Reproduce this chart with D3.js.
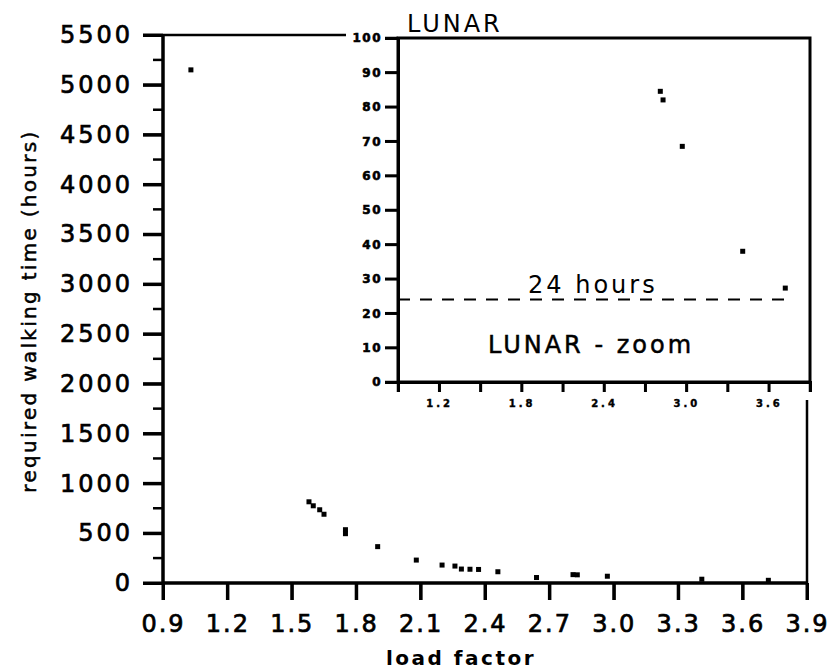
<!DOCTYPE html>
<html>
<head>
<meta charset="utf-8">
<script src="https://cdn.jsdelivr.net/npm/d3@7"></script>
<style>
  html, body { margin: 0; padding: 0; background: #fff; }
  svg { display: block; }
  text { font-family: "DejaVu Sans", sans-serif; fill: #000; }
</style>
</head>
<body>
<svg id="chart" width="830" height="671"></svg>
<script>
// ---- data ----
const loadFactor = [1.03, 1.58, 1.60, 1.63, 1.65, 1.75, 1.75, 1.90, 2.08, 2.20, 2.26, 2.29, 2.33, 2.37, 2.46, 2.64, 2.81, 2.83, 2.97, 3.41, 3.72];
const walkTime   = [5150, 815, 775, 735, 690, 535, 495, 365, 230, 180, 170, 140, 138, 136, 113, 55, 84, 82, 68, 38, 27];

// inset (LUNAR - zoom) points, y <= 100 hours
const insetLoad = [2.81, 2.83, 2.97, 3.41, 3.72];
const insetTime = [84.5, 82, 68.5, 38, 27.3];

const xTicks = [0.9, 1.2, 1.5, 1.8, 2.1, 2.4, 2.7, 3.0, 3.3, 3.6, 3.9];
const yTicks = [0, 500, 1000, 1500, 2000, 2500, 3000, 3500, 4000, 4500, 5000, 5500];
const yMinorTicks = [250, 750, 1250, 1750, 2250, 2750, 3250, 3750, 4250, 4750, 5250];
const insetXTicks = [0.9, 1.2, 1.5, 1.8, 2.1, 2.4, 2.7, 3.0, 3.3, 3.6, 3.9];
const insetXLabels = [1.2, 1.8, 2.4, 3.0, 3.6];
const insetYTicks = [0, 10, 20, 30, 40, 50, 60, 70, 80, 90, 100];
const thresholdHours = 24;

const svg = d3.select("#chart");

// ---- main plot ----
const x = d3.scaleLinear().domain([0.9, 3.9]).range([163, 807]);
const y = d3.scaleLinear().domain([0, 5500]).range([583, 35]);

// frame (top + right)
svg.append("line").attr("x1", x(0.9)).attr("x2", x(3.9)).attr("y1", y(5500)).attr("y2", y(5500))
  .attr("stroke", "#000").attr("stroke-width", 2.5);
svg.append("line").attr("x1", x(3.9)).attr("x2", x(3.9)).attr("y1", y(5500)).attr("y2", y(0))
  .attr("stroke", "#000").attr("stroke-width", 2.5);

const yAxis = svg.append("g").attr("transform", `translate(${x(0.9)},0)`)
  .call(d3.axisLeft(y).tickValues(yTicks).tickSize(20).tickPadding(10).tickFormat(d3.format("d")));
const xAxis = svg.append("g").attr("transform", `translate(0,${y(0)})`)
  .call(d3.axisBottom(x).tickValues(xTicks).tickSize(17).tickPadding(15).tickFormat(d3.format(".1f")));

[yAxis, xAxis].forEach(g => {
  g.selectAll(".domain").attr("stroke", "#000").attr("stroke-width", 3.5);
  g.selectAll(".tick line").attr("stroke", "#000").attr("stroke-width", 3);
});
xAxis.select(".domain").attr("d", `M${x(0.9)},0H${x(3.9)}`);
yAxis.select(".domain").attr("d", `M0,${y(5500)}V${y(0)}`);
yAxis.selectAll(".tick text").attr("font-size", 24).attr("letter-spacing", 3)
  .attr("font-family", "DejaVu Sans").attr("fill", "#000")
  .attr("stroke", "#000").attr("stroke-width", 0.7);
xAxis.selectAll(".tick text").attr("font-size", 24).attr("letter-spacing", 2)
  .attr("font-family", "DejaVu Sans").attr("fill", "#000").attr("dy", "0.72em")
  .attr("stroke", "#000").attr("stroke-width", 0.7);

// explicit tick marks (major + minor) from the scales
const tickG = svg.append("g").attr("stroke", "#000");
tickG.selectAll("line.ymaj").data(yTicks).join("line").attr("class", "ymaj")
  .attr("x1", x(0.9) - 20).attr("x2", x(0.9)).attr("y1", d => y(d)).attr("y2", d => y(d))
  .attr("stroke-width", 3);
tickG.selectAll("line.ymin").data(yMinorTicks).join("line").attr("class", "ymin")
  .attr("x1", x(0.9) - 10).attr("x2", x(0.9)).attr("y1", d => y(d)).attr("y2", d => y(d))
  .attr("stroke-width", 2.5);
tickG.selectAll("line.xmaj").data(xTicks).join("line").attr("class", "xmaj")
  .attr("x1", d => x(d)).attr("x2", d => x(d)).attr("y1", y(0)).attr("y2", y(0) + 17)
  .attr("stroke-width", 3);

// points
svg.append("g").selectAll("rect").data(loadFactor.map((d, i) => [d, walkTime[i]]))
  .join("rect")
  .attr("x", d => x(d[0]) - 2.5).attr("y", d => y(d[1]) - 2.5)
  .attr("width", 5).attr("height", 5).attr("fill", "#000");

// axis titles
svg.append("text").attr("x", 461).attr("y", 665).attr("text-anchor", "middle")
  .attr("font-size", 20).attr("font-weight", "bold").attr("letter-spacing", 2.5)
  .text("load factor");
svg.append("text").attr("transform", "translate(36,311) rotate(-90)").attr("text-anchor", "middle")
  .attr("font-size", 20).attr("letter-spacing", 2.3)
  .attr("stroke", "#000").attr("stroke-width", 0.5)
  .text("required walking time (hours)");

// ---- inset ----
const inset = svg.append("g");
inset.append("rect").attr("x", 346).attr("y", 0).attr("width", 484).attr("height", 400).attr("fill", "#fff");

const xi = d3.scaleLinear().domain([0.9, 3.9]).range([398, 810]);
const yi = d3.scaleLinear().domain([0, 100]).range([382, 38]);

inset.append("rect").attr("x", xi(0.9)).attr("y", yi(100))
  .attr("width", xi(3.9) - xi(0.9)).attr("height", yi(0) - yi(100))
  .attr("fill", "none").attr("stroke", "#000").attr("stroke-width", 3);

const yiAxis = inset.append("g").attr("transform", `translate(${xi(0.9)},0)`)
  .call(d3.axisLeft(yi).tickValues(insetYTicks).tickSize(13).tickPadding(3).tickFormat(d3.format("d")));
const xiAxis = inset.append("g").attr("transform", `translate(0,${yi(0)})`)
  .call(d3.axisBottom(xi).tickValues(insetXTicks).tickSize(10).tickPadding(8)
    .tickFormat(d => insetXLabels.some(v => Math.abs(v - d) < 1e-6) ? d3.format(".1f")(d) : ""));
[yiAxis, xiAxis].forEach(g => {
  g.selectAll(".domain").attr("stroke", "#000").attr("stroke-width", 3);
  g.selectAll(".tick line").attr("stroke", "#000").attr("stroke-width", 2.5);
});
yiAxis.selectAll(".tick text").attr("font-size", 12).attr("font-weight", "bold").attr("letter-spacing", 1.5)
  .attr("font-family", "DejaVu Sans").attr("fill", "#000").attr("stroke", "#000").attr("stroke-width", 0.6);
xiAxis.selectAll(".tick text").attr("font-size", 10).attr("font-weight", "bold").attr("letter-spacing", 3)
  .attr("font-family", "DejaVu Sans").attr("fill", "#000").attr("stroke", "#000").attr("stroke-width", 0.4);

const itG = inset.append("g").attr("stroke", "#000").attr("stroke-width", 2.5);
itG.selectAll("line.iy").data(insetYTicks).join("line").attr("class", "iy")
  .attr("x1", xi(0.9) - 13).attr("x2", xi(0.9)).attr("y1", d => yi(d)).attr("y2", d => yi(d));
itG.selectAll("line.ix").data(insetXTicks).join("line").attr("class", "ix")
  .attr("x1", d => xi(d)).attr("x2", d => xi(d)).attr("y1", yi(0)).attr("y2", yi(0) + 10);

// threshold line
inset.append("line").attr("x1", xi(0.9)).attr("x2", 793).attr("y1", yi(thresholdHours)).attr("y2", yi(thresholdHours))
  .attr("stroke", "#000").attr("stroke-width", 2).attr("stroke-dasharray", "12,10");

inset.append("g").selectAll("rect").data(insetLoad.map((d, i) => [d, insetTime[i]]))
  .join("rect")
  .attr("x", d => xi(d[0]) - 2.5).attr("y", d => yi(d[1]) - 2.5)
  .attr("width", 5).attr("height", 5).attr("fill", "#000");

inset.append("text").attr("x", 528).attr("y", 293).attr("font-size", 24).attr("letter-spacing", 3)
  .text("24 hours");
inset.append("text").attr("x", 488).attr("y", 353).attr("font-size", 24).attr("letter-spacing", 3)
  .attr("stroke", "#000").attr("stroke-width", 0.5)
  .text("LUNAR - zoom");
inset.append("text").attr("x", 407).attr("y", 32).attr("font-size", 24).attr("letter-spacing", 3)
  .text("LUNAR");
</script>
</body>
</html>
